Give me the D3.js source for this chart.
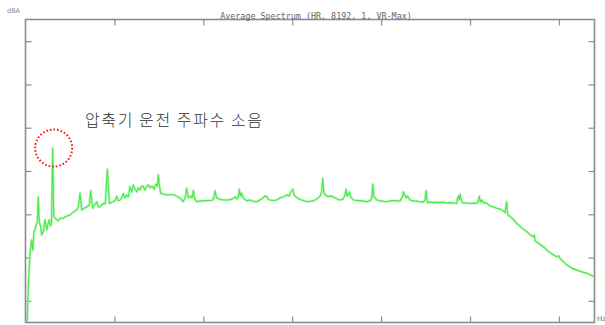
<!DOCTYPE html>
<html><head><meta charset="utf-8">
<script src="https://cdn.jsdelivr.net/npm/d3@7"></script>
<style>
html,body{margin:0;padding:0;background:#fff;}
svg{display:block;}
</style></head>
<body>
<svg id="chart" width="605" height="325"></svg>
<script>
// ---- data ----
const titleText = "Average Spectrum (HR, 8192, 1, VR-Max)";
const yUnit = "dBA";
const xUnit = "Hz";
const annotationText = "압축기 운전 주파수 소음";
const xTicks = [2000, 4000, 6000, 8000, 10000, 12000];
const yTicks = [5, 15, 25, 35, 45, 55, 65];
const peakFreq = 612;   // highlighted compressor frequency
const peakLevel = 40.3;
const freqHz = [40,63,101,140,162,191,214,236,266,288,310,342,364,400,439,477,506,535,562,585,612,634,664,738,776,850,927,1001,1075,1152,1188,1226,1264,1316,1377,1435,1467,1512,1552,1602,1638,1676,1750,1795,1840,1885,1946,2014,2052,2088,2126,2164,2200,2239,2277,2313,2351,2390,2425,2464,2502,2538,2576,2614,2650,2689,2727,2763,2801,2846,2891,2936,2965,2988,3015,3042,3094,3177,3251,3326,3402,3476,3550,3600,3627,3663,3713,3746,3776,3807,3852,3926,4016,4106,4185,4226,4264,4298,4376,4466,4556,4646,4714,4759,4793,4810,4833,4860,4894,4977,5051,5119,5202,5276,5344,5378,5427,5456,5501,5576,5652,5726,5800,5877,5929,5963,6012,6041,6086,6176,6251,6327,6401,6476,6548,6626,6660,6687,6710,6739,6806,6863,6926,7002,7076,7144,7189,7211,7234,7263,7285,7313,7376,7459,7526,7600,7677,7751,7789,7812,7834,7902,7976,8051,8127,8201,8276,8352,8426,8478,8500,8527,8561,8594,8651,8726,8802,8876,8944,8989,9011,9041,9101,9176,9252,9326,9401,9477,9551,9626,9702,9720,9738,9758,9776,9803,9833,9927,10001,10076,10152,10193,10210,10233,10271,10305,10339,10395,10451,10526,10602,10676,10744,10789,10811,10827,10841,10863,10946,11052,11160,11277,11351,11426,11448,11464,11554,11650,11756,11876,11952,11993,12026,12100,12177,12285,12402,12510,12627,12701,12776];
const levelDbA = [0.2,8.2,16.1,19.1,16.7,20.9,21.4,22.5,23.2,29.0,23.2,22.1,20.2,21.0,23.7,21.4,22.8,23.7,22.3,23.2,40.3,24.6,24.1,23.5,24.1,24.1,24.6,24.8,25.5,26.0,26.7,29.9,26.0,26.4,26.7,27.1,30.4,26.4,27.1,27.9,26.7,26.7,27.5,27.4,35.4,27.5,27.8,28.1,29.2,28.1,28.3,28.8,29.8,28.8,29.5,29.0,31.4,30.1,31.8,30.8,30.2,31.1,30.6,31.5,31.4,30.6,31.5,31.8,31.1,31.5,30.8,32.0,31.5,34.1,31.5,29.8,29.7,29.5,29.5,29.5,29.2,28.7,27.9,29.2,31.0,28.8,29.2,28.8,30.5,28.5,27.9,28.1,28.1,28.2,28.2,28.5,30.4,28.8,28.4,28.3,28.3,28.5,29.0,28.5,29.2,30.8,29.2,29.9,28.8,28.1,28.3,28.0,27.9,28.3,28.8,29.2,29.1,28.5,28.3,28.2,28.3,28.8,29.0,29.5,29.2,30.1,30.8,29.5,29.0,28.4,28.2,27.9,28.0,28.1,28.5,29.2,30.1,33.3,30.1,29.5,29.1,29.2,29.0,28.6,28.3,28.5,29.5,30.8,29.2,29.5,30.2,29.0,28.3,28.2,28.1,28.1,27.9,28.1,28.8,32.0,29.2,28.3,28.1,28.0,27.9,28.1,28.2,28.1,28.1,29.0,30.2,29.5,28.8,29.2,28.3,28.1,28.0,27.9,27.8,28.3,30.5,27.7,27.8,27.7,27.8,27.7,27.8,27.6,27.7,27.6,27.5,28.8,29.2,28.3,29.7,28.3,27.6,27.6,27.5,27.6,27.5,28.3,29.2,27.8,28.3,27.6,27.7,27.4,26.9,26.7,26.4,26.2,25.8,25.4,27.1,27.9,25.3,24.8,24.1,22.9,21.9,21.0,20.3,19.8,20.2,18.9,18.2,17.5,16.5,15.6,15.2,15.4,14.8,14.0,13.3,12.6,12.1,11.7,11.4,11.0,10.7];

// ---- layout ----
const W = 605, H = 325;
const m = {left: 25.5, right: 10.5, top: 19.5, bottom: 2.5};
const x0 = m.left, x1 = W - m.right, y0 = m.top, y1 = H - m.bottom;

const svg = d3.select("#chart");
const x = d3.scaleLinear().domain([0, 12800]).range([x0, x1]);
const y = d3.scaleLinear().domain([0, 70]).range([y1, y0]);

const axisColor = "#8c8c8c";
function styleAxis(g){
  g.select(".domain").remove();
  g.selectAll(".tick line").attr("stroke", axisColor).attr("stroke-width", 1.2);
  g.selectAll(".tick text").remove();
}
const tl = 6;
svg.append("g").attr("transform", `translate(${x0},0)`)
  .call(d3.axisLeft(y).tickValues(yTicks).tickSize(-tl).tickFormat("")).call(styleAxis);
svg.append("g").attr("transform", `translate(${x1},0)`)
  .call(d3.axisRight(y).tickValues(yTicks).tickSize(-tl).tickFormat("")).call(styleAxis);
svg.append("g").attr("transform", `translate(0,${y0})`)
  .call(d3.axisTop(x).tickValues(xTicks).tickSize(-tl).tickFormat("")).call(styleAxis);
svg.append("g").attr("transform", `translate(0,${y1})`)
  .call(d3.axisBottom(x).tickValues(xTicks).tickSize(-tl).tickFormat("")).call(styleAxis);

// clip
svg.append("clipPath").attr("id","plotclip").append("rect")
  .attr("x", x0).attr("y", y0).attr("width", x1-x0).attr("height", y1-y0);

const pts = freqHz.map((f,i)=>[f, levelDbA[i]]);
const line = d3.line().x(d=>x(d[0])).y(d=>y(d[1]));
const gl = svg.append("g").attr("clip-path","url(#plotclip)");
gl.append("path").datum(pts).attr("d", line)
  .attr("fill","none").attr("stroke","#c2f7c2").attr("stroke-width",2.6).attr("stroke-linejoin","round");
gl.append("path").datum(pts).attr("d", line)
  .attr("fill","none").attr("stroke","#45ea45").attr("stroke-width",1.1).attr("stroke-linejoin","round");

// frame
svg.append("rect").attr("x", x0).attr("y", y0).attr("width", x1-x0).attr("height", y1-y0)
  .attr("fill","none").attr("stroke", axisColor).attr("stroke-width", 1.6);

// texts
svg.append("text").attr("x", (x0+x1)/2 + 6).attr("y", 18.5).attr("text-anchor","middle")
  .attr("font-family","DejaVu Sans Mono").attr("font-size", 8.4).attr("fill","#666")
  .text(titleText);
svg.append("text").attr("x", 7).attr("y", 13).attr("font-family","DejaVu Sans")
  .attr("font-size", 6.5).attr("fill","#888").text(yUnit);
svg.append("text").attr("x", 597).attr("y", 321).attr("font-family","DejaVu Sans")
  .attr("font-size", 7).attr("fill","#777").text(xUnit);

svg.append("text").attr("x", 85).attr("y", 125.5)
  .attr("font-family","'Noto Sans CJK KR'").attr("font-size", 16).attr("font-weight", 300)
  .attr("fill","#333")
  .attr("textLength", 177).attr("lengthAdjust","spacing")
  .text(annotationText);

// dotted circle around peak
svg.append("circle").attr("cx", x(peakFreq) + 1).attr("cy", y(peakLevel))
  .attr("r", 18.5).attr("fill","none").attr("stroke","#ee1c1c")
  .attr("stroke-width", 2).attr("stroke-dasharray","1.6,2");
</script>
</body></html>
